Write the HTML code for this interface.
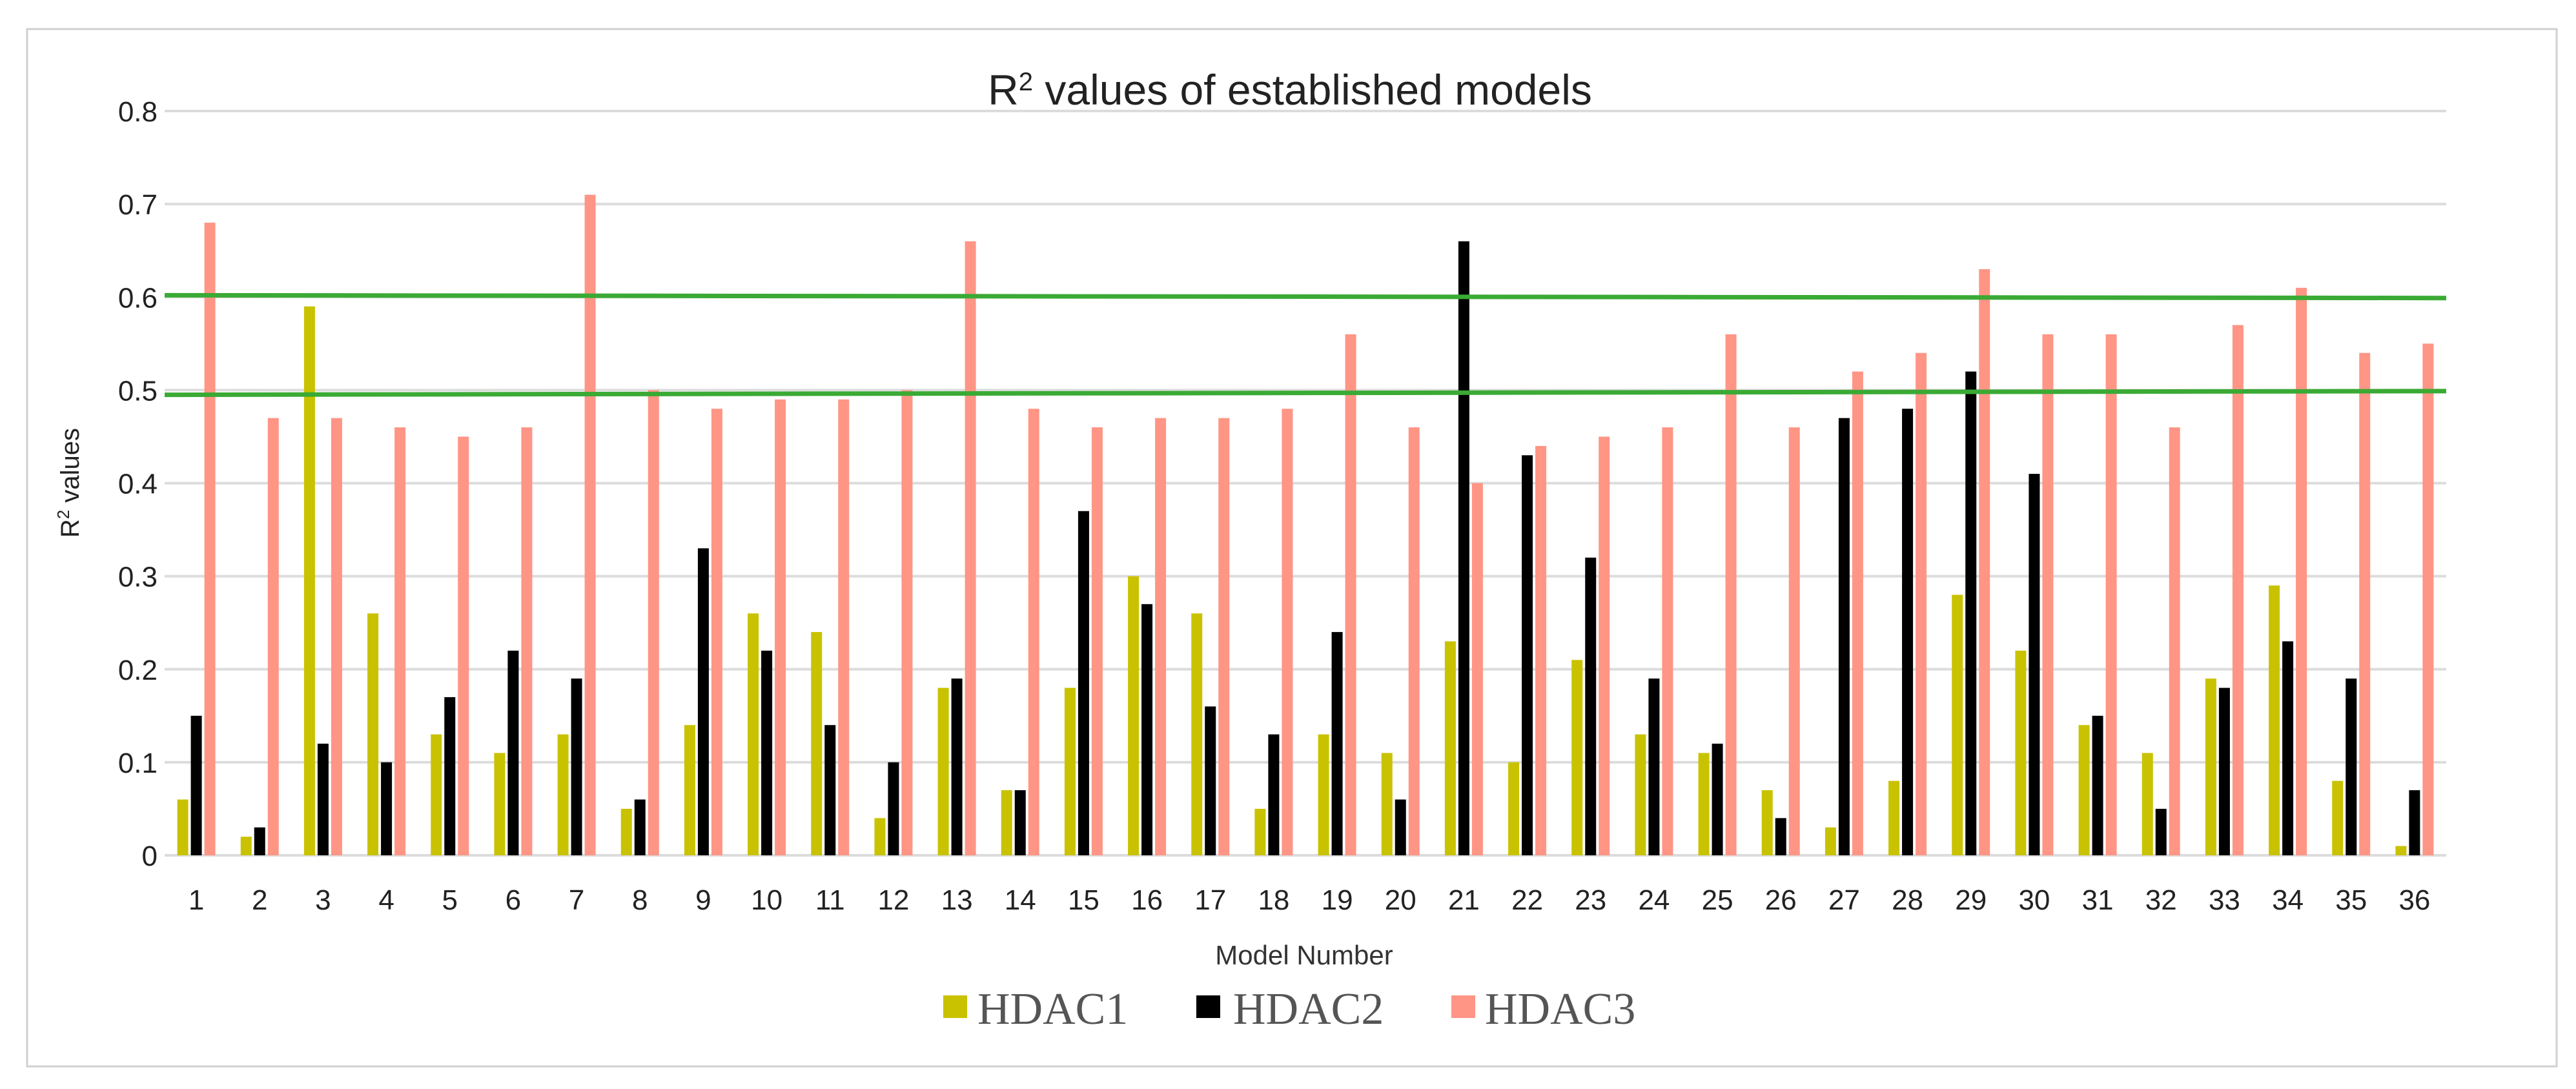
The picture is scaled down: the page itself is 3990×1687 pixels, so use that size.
<!DOCTYPE html>
<html><head><meta charset="utf-8"><style>
html,body{margin:0;padding:0;background:#fff;}
svg{display:block;}
</style></head><body>
<svg id="chart" width="3990" height="1687" xmlns="http://www.w3.org/2000/svg">
<rect x="42" y="45" width="3918" height="1607" fill="#fff" stroke="#d0d0d0" stroke-width="3"/>
<text x="1998" y="162" text-anchor="middle" font-family="Liberation Sans, sans-serif" font-size="66" fill="#222">R<tspan baseline-shift="super" font-size="40">2</tspan> values of established models</text>
<g id="grid"></g>
<g id="bars"></g>
<g id="refs"></g>
<g id="ylabels"></g>
<g id="xlabels"></g>
<text transform="translate(122,748) rotate(-90)" text-anchor="middle" font-family="Liberation Sans, sans-serif" font-size="40" fill="#222">R<tspan baseline-shift="super" font-size="26">2</tspan> values</text>
<text x="2020" y="1494" text-anchor="middle" font-family="Liberation Sans, sans-serif" font-size="42" fill="#333">Model Number</text>
<g>
<g><rect x="1461" y="1542" width="37" height="35" fill="#c9c200"/><text x="1514" y="1586" font-family="Liberation Serif, serif" font-size="70" fill="#555">HDAC1</text></g>
<g><rect x="1853" y="1542" width="37" height="35" fill="#000"/><text x="1910" y="1586" font-family="Liberation Serif, serif" font-size="70" fill="#555">HDAC2</text></g>
<g><rect x="2248" y="1542" width="37" height="35" fill="#ff9585"/><text x="2300" y="1586" font-family="Liberation Serif, serif" font-size="70" fill="#555">HDAC3</text></g>
</g>
</svg>
<script>
const categories = Array.from({length:36},(_,i)=>String(i+1));
const hdac1 = [0.06,0.02,0.59,0.26,0.13,0.11,0.13,0.05,0.14,0.26,0.24,0.04,0.18,0.07,0.18,0.30,0.26,0.05,0.13,0.11,0.23,0.10,0.21,0.13,0.11,0.07,0.03,0.08,0.28,0.22,0.14,0.11,0.19,0.29,0.08,0.01];
const hdac2 = [0.15,0.03,0.12,0.10,0.17,0.22,0.19,0.06,0.33,0.22,0.14,0.10,0.19,0.07,0.37,0.27,0.16,0.13,0.24,0.06,0.66,0.43,0.32,0.19,0.12,0.04,0.47,0.48,0.52,0.41,0.15,0.05,0.18,0.23,0.19,0.07];
const hdac3 = [0.68,0.47,0.47,0.46,0.45,0.46,0.71,0.50,0.48,0.49,0.49,0.50,0.66,0.48,0.46,0.47,0.47,0.48,0.56,0.46,0.40,0.44,0.45,0.46,0.56,0.46,0.52,0.54,0.63,0.56,0.56,0.46,0.57,0.61,0.54,0.55];
const yTicks = [0,0.1,0.2,0.3,0.4,0.5,0.6,0.7,0.8];
const yTickLabels = ["0","0.1","0.2","0.3","0.4","0.5","0.6","0.7","0.8"];
const refLines = [[0.602,0.599],[0.495,0.499]];

const NS="http://www.w3.org/2000/svg";
const X0=255,X1=3789,Y0=1325,YTOP=172;
const step=(X1-X0)/categories.length;
const xc=i=>X0+step*(i+0.5);
const y=v=>Y0-v/0.8*(Y0-YTOP);
function mk(tag,attrs,parent){const e=document.createElementNS(NS,tag);for(const k in attrs)e.setAttribute(k,attrs[k]);parent.appendChild(e);return e;}
const grid=document.getElementById('grid'),bars=document.getElementById('bars'),refs=document.getElementById('refs'),yl=document.getElementById('ylabels'),xl=document.getElementById('xlabels');
yTicks.forEach((t,k)=>{
  const l=mk('line',{x1:X0,x2:X1,y1:y(t),y2:y(t),stroke:'#dcdcdc','stroke-width':4},grid);
  
  
  const tx=mk('text',{x:244,y:y(t)+16,'text-anchor':'end','font-family':'Liberation Sans, sans-serif','font-size':44,fill:'#222'},yl);
  tx.textContent=yTickLabels[k];
  
  
});
const series=[[hdac1,'#c9c200',-21,'hdac1'],[hdac2,'#000',0,'hdac2'],[hdac3,'#ff9585',21,'hdac3']];
categories.forEach((c,i)=>{
  series.forEach(([arr,col,off,nm])=>{
    const v=arr[i];
    const r=mk('rect',{x:xc(i)+off-8.5,y:y(v),width:17,height:Y0-y(v),fill:col},bars);
    
    
  });
  const t=mk('text',{x:xc(i),y:1409,'text-anchor':'middle','font-family':'Liberation Sans, sans-serif','font-size':44,fill:'#222'},xl);
  t.textContent=c;
  
  
});
refLines.forEach((r,k)=>{
  const l=mk('line',{x1:X0,x2:X1,y1:y(r[0]),y2:y(r[1]),stroke:'#3aaa35','stroke-width':7},refs);
  
  
});
</script>
</body></html>
